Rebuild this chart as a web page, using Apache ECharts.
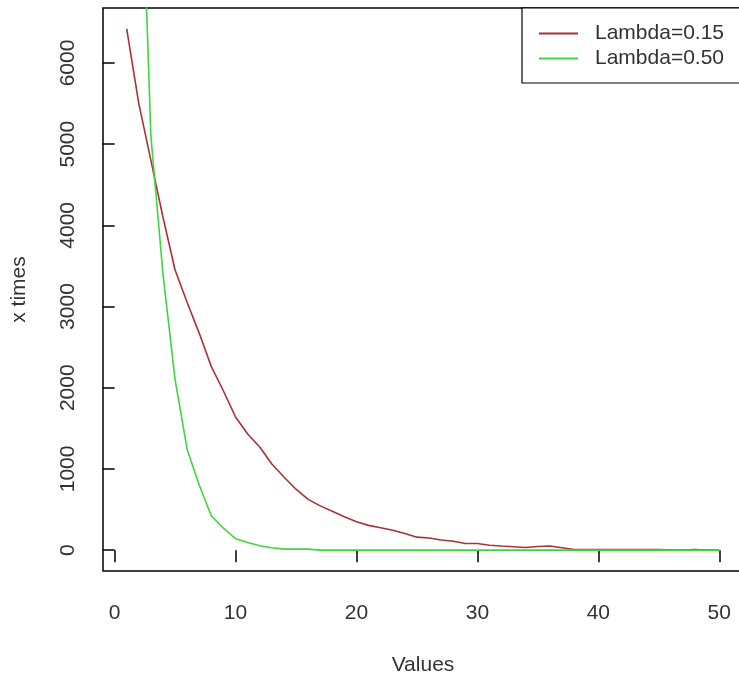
<!DOCTYPE html>
<html>
<head>
<meta charset="utf-8">
<script src="https://cdn.jsdelivr.net/npm/echarts@6/dist/echarts.min.js"></script>
<style>
html,body{margin:0;padding:0;background:#fff;}
#chart{width:739px;height:675px;}
</style>
</head>
<body>
<div id="chart"></div>
<script>
// ---- data ----
const xValues = [1,2,3,4,5,6,7,8,9,10,11,12,13,14,15,16,17,18,19,20,21,22,23,24,25,26,27,28,29,30,31,32,33,34,35,36,37,38,39,40,41,42,43,44,45,46,47,48,49,50];
const lambda015 = [6420,5500,4800,4100,3450,3050,2670,2260,1960,1640,1430,1270,1060,900,750,625,545,480,410,350,305,275,245,205,160,150,125,110,82,82,60,50,42,32,45,50,30,8,8,8,8,8,8,8,8,0,0,8,0,0];
const lambda050 = [15000,9500,5100,3400,2100,1240,800,420,270,140,95,55,30,12,12,12,0,0,0,0,0,0,0,0,0,0,0,0,0,0,0,0,0,0,0,0,0,0,0,0,0,0,0,0,0,0,0,0,0,0];
const seriesNames = ['Lambda=0.15','Lambda=0.50'];
const xTicks = [0,10,20,30,40,50];
const yTicks = [0,1000,2000,3000,4000,5000,6000];

const FONT = "'Liberation Sans', Arial, sans-serif";
const TXT = '#333';
const pairs = (ys) => xValues.map((x,i)=>[x, ys[i]]);

const chart = echarts.init(document.getElementById('chart'), null, {renderer:'canvas'});
chart.setOption({
  animation:false,
  backgroundColor:'#fff',
  grid:{left:103, top:8, width:640, height:563, show:true, borderColor:'#000', borderWidth:1.5,
        backgroundColor:'transparent', containLabel:false, outerBoundsMode:'none'},
  legend:{
    left:522, top:8,
    orient:'vertical',
    icon:'rect', itemWidth:39, itemHeight:2, itemGap:4,
    padding:[15,20,14,17],
    borderColor:'#000', borderWidth:1.2, backgroundColor:'#fff',
    textStyle:{fontFamily:FONT, fontSize:21, color:TXT, lineHeight:21, padding:[0,0,0,12]},
    data:seriesNames
  },
  xAxis:{
    type:'value', min:-0.96, max:51.96,
    name:'Values', nameLocation:'middle', nameGap:84,
    nameTextStyle:{fontFamily:FONT, fontSize:21, color:TXT},
    axisLine:{show:false},
    axisTick:{show:true, inside:false, length:12, customValues:xTicks, lineStyle:{color:'#000', width:1.5}},
    axisLabel:{customValues:xTicks, fontFamily:FONT, fontSize:21, color:TXT, margin:32},
    splitLine:{show:false}
  },
  yAxis:{
    type:'value', min:-257, max:6677,
    name:'x times', nameLocation:'middle', nameGap:73, nameRotate:90,
    nameTextStyle:{fontFamily:FONT, fontSize:21, color:TXT},
    axisLine:{show:false},
    axisTick:{show:true, inside:false, length:12, customValues:yTicks, lineStyle:{color:'#000', width:1.5}},
    axisLabel:{customValues:yTicks, rotate:90, fontFamily:FONT, fontSize:21, color:TXT, margin:24,
               formatter:(v)=>String(v)},
    splitLine:{show:false}
  },
  series:[
    {name:seriesNames[0], type:'line', data:pairs(lambda015), symbol:'none', clip:true,
     lineStyle:{color:'#a8323a', width:1.6}, itemStyle:{color:'#a8323a'}},
    {name:seriesNames[1], type:'line', data:pairs(lambda050), symbol:'none', clip:true,
     lineStyle:{color:'#3fd53f', width:1.6}, itemStyle:{color:'#3fd53f'}}
  ]
});
</script>
</body>
</html>
